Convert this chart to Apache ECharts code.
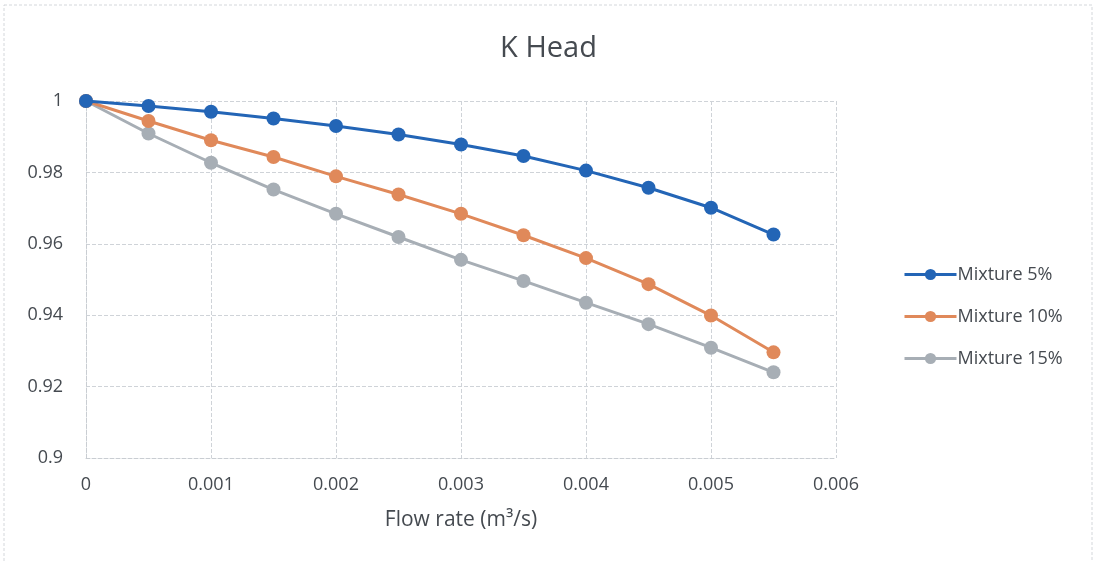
<!DOCTYPE html>
<html>
<head>
<meta charset="utf-8">
<script src="https://cdn.jsdelivr.net/npm/echarts@6/dist/echarts.min.js"></script>
<style>
  html, body { margin: 0; padding: 0; background: #fff; }
  #chart { width: 1097px; height: 562px; }
</style>
</head>
<body>
<div id="chart"></div>
<script>
// Flow rate (m³/s) and head ratio K for each mixture
const flowRates = [0, 0.0005, 0.001, 0.0015, 0.002, 0.0025, 0.003, 0.0035, 0.004, 0.0045, 0.005, 0.0055];
const mixture5 = [1, 0.9986, 0.9970, 0.9951, 0.9930, 0.9906, 0.9878, 0.9846, 0.9805, 0.9757, 0.9701, 0.9626];
const mixture10 = [1, 0.9944, 0.9890, 0.9843, 0.9789, 0.9738, 0.9684, 0.9624, 0.9560, 0.9487, 0.9399, 0.9296];
const mixture15 = [1, 0.9909, 0.9827, 0.9752, 0.9684, 0.9619, 0.9555, 0.9496, 0.9435, 0.9375, 0.9309, 0.9240];
const seriesNames = ['Mixture 5%', 'Mixture 10%', 'Mixture 15%'];
const seriesColors = ['#2365b6', '#e0895a', '#a7aeb5'];

const font = '"Open Sans", "Liberation Sans", sans-serif';
const textColor = '#454a50';

function pairs(ys) { return flowRates.map((x, i) => [x, ys[i]]); }

const chart = echarts.init(document.getElementById('chart'), null, { renderer: 'canvas' });
chart.setOption({
  backgroundColor: '#fff',
  animation: false,
  title: {
    text: 'K Head',
    left: 'center',
    top: 29,
    textStyle: { fontFamily: font, fontSize: 29, fontWeight: 'normal', color: textColor }
  },
  legend: {
    orient: 'vertical',
    left: 898,
    top: 257,
    itemGap: 17,
    itemWidth: 52,
    itemHeight: 14,
    lineStyle: { width: 3 },
    textStyle: { fontFamily: font, fontSize: 18, lineHeight: 25, color: textColor, padding: [0, 0, 0, -4] },
    data: seriesNames
  },
  grid: { left: 86, right: 261, top: 101, bottom: 104 },
  xAxis: {
    type: 'value',
    min: 0, max: 0.006, interval: 0.001,
    name: 'Flow rate (m³/s)',
    nameLocation: 'middle',
    nameGap: 52,
    nameTextStyle: { fontFamily: font, fontSize: 21, color: textColor },
    axisLine: { show: true, lineStyle: { color: '#c9cdd2', type: 'dashed', width: 1 } },
    axisTick: { show: false },
    axisLabel: { fontFamily: font, fontSize: 18, color: textColor, margin: 18,
      formatter: v => v === 0 ? '0' : v.toFixed(3) },
    splitLine: { show: true, lineStyle: { color: '#cfd3d8', type: 'dashed', width: 1 } }
  },
  yAxis: {
    type: 'value',
    min: 0.9, max: 1, interval: 0.02,
    axisLine: { show: true, lineStyle: { color: '#c9cdd2', type: 'dashed', width: 1 } },
    axisTick: { show: false },
    axisLabel: { fontFamily: font, fontSize: 18, color: textColor, margin: 23,
      formatter: v => v === 1 ? '1' : (v === 0.9 ? '0.9' : String(+v.toFixed(2))) },
    splitLine: { show: true, lineStyle: { color: '#cfd3d8', type: 'dashed', width: 1 } }
  },
  series: [mixture5, mixture10, mixture15].map((ys, i) => ({
    name: seriesNames[i],
    type: 'line',
    data: pairs(ys),
    symbol: 'circle',
    symbolSize: 14,
    showAllSymbol: true,
    lineStyle: { width: 3, color: seriesColors[i] },
    itemStyle: { color: seriesColors[i] },
    z: 3 - i
  })),
  graphic: [{
    type: 'rect',
    shape: { x: 4, y: 5, width: 1088, height: 560 },
    style: { fill: null, stroke: '#d4d7db', lineWidth: 1, lineDash: [3, 2] },
    silent: true
  }]
});
</script>
</body>
</html>
